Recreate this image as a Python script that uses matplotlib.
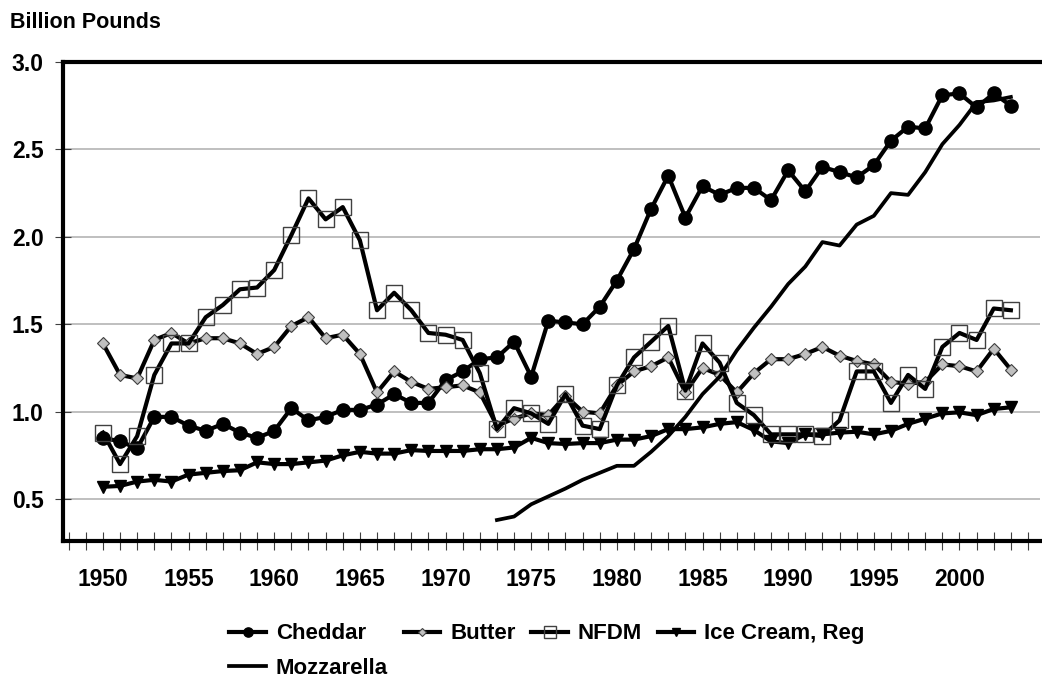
import numpy as np
import matplotlib
matplotlib.use("Agg")
import matplotlib.pyplot as plt
from matplotlib.ticker import MultipleLocator

plt.rcParams["font.family"] = ["Liberation Sans", "DejaVu Sans"]
plt.rcParams["font.weight"] = "bold"

# ── Data (billion pounds) ─────────────────────────────────────────────────────
years = list(range(1950, 2004))

cheddar = [0.85, 0.83, 0.79, 0.97, 0.97, 0.92, 0.89, 0.93, 0.88, 0.85,
           0.89, 1.02, 0.95, 0.97, 1.01, 1.01, 1.04, 1.10, 1.05, 1.05,
           1.18, 1.23, 1.30, 1.31, 1.40, 1.20, 1.52, 1.51, 1.50, 1.60,
           1.75, 1.93, 2.16, 2.35, 2.11, 2.29, 2.24, 2.28, 2.28, 2.21,
           2.38, 2.26, 2.40, 2.37, 2.34, 2.41, 2.55, 2.63, 2.62, 2.81,
           2.82, 2.74, 2.82, 2.75]

butter = [1.39, 1.21, 1.19, 1.41, 1.45, 1.39, 1.42, 1.42, 1.39, 1.33,
          1.37, 1.49, 1.54, 1.42, 1.44, 1.33, 1.11, 1.23, 1.17, 1.13,
          1.14, 1.15, 1.11, 0.92, 0.96, 0.99, 0.98, 1.09, 1.00, 0.99,
          1.15, 1.23, 1.26, 1.31, 1.11, 1.25, 1.21, 1.11, 1.22, 1.30,
          1.30, 1.33, 1.37, 1.32, 1.29, 1.27, 1.17, 1.16, 1.17, 1.27,
          1.26, 1.23, 1.36, 1.24]

nfdm = [0.88, 0.70, 0.86, 1.21, 1.39, 1.39, 1.54, 1.61, 1.70, 1.71,
        1.81, 2.01, 2.22, 2.10, 2.17, 1.98, 1.58, 1.68, 1.58, 1.45,
        1.44, 1.41, 1.22, 0.90, 1.02, 0.99, 0.93, 1.10, 0.92, 0.90,
        1.15, 1.31, 1.40, 1.49, 1.12, 1.39, 1.28, 1.05, 0.98, 0.87,
        0.87, 0.87, 0.86, 0.95, 1.23, 1.23, 1.05, 1.21, 1.13, 1.37,
        1.45, 1.41, 1.59, 1.58]

ice_cream = [0.57, 0.575, 0.60, 0.61, 0.60, 0.64, 0.65, 0.66, 0.665, 0.71,
             0.70, 0.70, 0.71, 0.72, 0.75, 0.77, 0.76, 0.76, 0.78, 0.775,
             0.775, 0.775, 0.785, 0.785, 0.795, 0.85, 0.82, 0.815, 0.82, 0.82,
             0.84, 0.84, 0.86, 0.90, 0.90, 0.91, 0.93, 0.94, 0.895, 0.83,
             0.82, 0.87, 0.87, 0.88, 0.885, 0.87, 0.89, 0.93, 0.96, 0.99,
             0.996, 0.98, 1.015, 1.025]

mozz_years = list(range(1973, 2004))
mozzarella = [0.38, 0.40, 0.47, 0.515, 0.56, 0.61, 0.65, 0.69, 0.69, 0.77,
              0.86, 0.97, 1.10, 1.20, 1.35, 1.48, 1.60, 1.73, 1.83, 1.97,
              1.95, 2.07, 2.12, 2.25, 2.24, 2.37, 2.53, 2.64, 2.77, 2.78,
              2.80]

x_ticks = list(range(1950, 2001, 5))
y_ticks = [0.5, 1.0, 1.5, 2.0, 2.5, 3.0]
y_labels = ["0.5", "1.0", "1.5", "2.0", "2.5", "3.0"]

# ── Plot ──────────────────────────────────────────────────────────────────────
fig = plt.figure(figsize=(10.42, 6.77), dpi=100)
ax = fig.add_axes([63 / 1042, 1 - 541 / 677, 977 / 1042, (541 - 62) / 677])

for y in y_ticks[:-1]:
    ax.axhline(y, color="#b4b4b4", lw=1.2, zorder=0)

h_ched, = ax.plot(years, cheddar, "-o", color="black", lw=3, ms=9.5,
                  label="Cheddar", zorder=3)
h_butt, = ax.plot(years, butter, "-D", color="black", lw=3, ms=6.5,
                  mfc="#c0c0c0", mec="#404040", mew=0.8, label="Butter", zorder=3)
h_nfdm, = ax.plot(years, nfdm, "-s", color="black", lw=3, ms=12,
                  mfc="none", mec="#404040", mew=1.0, label="NFDM", zorder=4)
h_ice, = ax.plot(years, ice_cream, "-v", color="black", lw=3, ms=8,
                 label="Ice Cream, Reg", zorder=3)
h_mozz, = ax.plot(mozz_years, mozzarella, "-", color="black", lw=2.7,
                  label="Mozzarella", zorder=3)

ax.set_xlim(1947.67, 2004.7)
ax.set_ylim(0.26, 3.0)

ax.set_xticks(x_ticks)
ax.xaxis.set_minor_locator(MultipleLocator(1))
ax.set_yticks(y_ticks)
ax.set_yticklabels(y_labels)

ax.tick_params(axis="x", which="both", direction="inout", length=13,
               width=0.8, color="#404040", labelsize=16.5, pad=13)
ax.tick_params(axis="y", direction="inout", length=12, width=0.8,
               color="#404040", labelsize=16.5, pad=8)
for lbl in ax.get_xticklabels() + ax.get_yticklabels():
    lbl.set_fontweight("bold")

for side in ["left", "top", "bottom"]:
    ax.spines[side].set_linewidth(3)
    ax.spines[side].set_color("black")
ax.spines["right"].set_visible(False)

fig.text(10 / 1042, 1 - 22 / 677, "Billion Pounds", fontsize=15.5,
         fontweight="bold", va="center", ha="left")

# column-major fill: keep Mozzarella under Cheddar
leg = fig.legend([h_ched, h_mozz, h_butt, h_nfdm, h_ice],
                 ["Cheddar", "Mozzarella", "Butter", "NFDM", "Ice Cream, Reg"],
                 ncol=4, loc="center", bbox_to_anchor=(547 / 1042, 1 - 651 / 677),
                 frameon=False, fontsize=16, handlelength=1.65, markerscale=0.7,
                 columnspacing=0.7, handletextpad=0.45, labelspacing=0.6,
                 borderpad=0.1)
for t in leg.get_texts():
    t.set_fontweight("bold")

fig.savefig("out.png", dpi=100)
